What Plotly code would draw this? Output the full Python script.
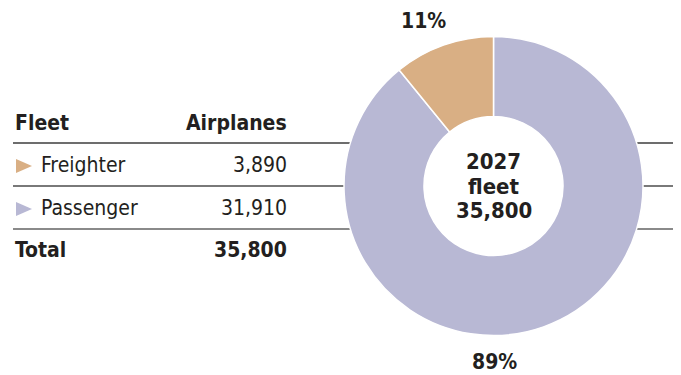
import plotly.graph_objects as go

W, H = 681, 375

categories = ["Freighter", "Passenger"]
values = [3890, 31910]
slice_colors = ["#D9AF84", "#B8B8D4"]
year = "2027"
total = sum(values)
header = ["Fleet", "Airplanes"]

FONT = "Liberation Sans Narrow, DejaVu Sans Condensed, Arial Narrow, sans-serif"
TXT = "#231f20"


def px(x):
    return x / W


def py(y):
    return 1 - y / H


cx, cy, r = 493.5, 186, 149.5

fig = go.Figure()
fig.add_trace(go.Pie(
    labels=categories[::-1], values=values[::-1], sort=False, direction="clockwise",
    rotation=0, hole=0.465,
    marker=dict(colors=slice_colors[::-1], line=dict(color="white", width=1.5)),
    textinfo="none", hoverinfo="label+value+percent", showlegend=False,
    domain=dict(x=[px(cx - r), px(cx + r)], y=[py(cy + r), py(cy - r)]),
))

ann = []


def add_text(x, y, text, anchor="left", bold=False, size=21):
    ann.append(dict(x=px(x), y=py(y), xref="paper", yref="paper", text=text,
                    showarrow=False, xanchor=anchor, yanchor="middle",
                    font=dict(family=FONT, size=size, color=TXT, weight="bold" if bold else "normal")))


# Table
add_text(13, 123, header[0], "left", True)
add_text(289, 123, header[1], "right", True)
row_y = [165, 208]
for i, (c, v) in enumerate(zip(categories, values)):
    add_text(39, row_y[i], c, "left")
    add_text(289, row_y[i], f"{v:,}", "right")
add_text(13, 250, "Total", "left", True)
add_text(289, 250, f"{total:,}", "right", True)

# center text
add_text(cx, 162, year, "center", True, 22)
add_text(cx, 186, "fleet", "center", True, 22)
add_text(cx, 210, f"{total:,}", "center", True, 22)

# percentages
pcts = [round(v / total * 100) for v in values]
add_text(424, 21, f"{pcts[0]}%", "center", True, 21)
add_text(494, 362, f"{pcts[1]}%", "center", True, 21)

shapes = []
# triangles
for i, col in enumerate(slice_colors):
    yc = row_y[i] + 1
    path = f"M {px(16)} {py(yc-7)} L {px(32)} {py(yc)} L {px(16)} {py(yc+7)} Z"
    shapes.append(dict(type="path", xref="paper", yref="paper", path=path,
                       fillcolor=col, line=dict(width=0)))

# rules
rules = [(143, "#3d3d3d", 1.5), (186, "#4d4d4d", 1.5), (229, "#8a8a8a", 2.2)]
for y, col, w in rules:
    for x0, x1 in [(13, 400), (590, 673)]:
        shapes.append(dict(type="line", xref="paper", yref="paper", x0=px(x0), x1=px(x1),
                           y0=py(y), y1=py(y), line=dict(color=col, width=w), layer="below"))

fig.update_layout(width=W, height=H, margin=dict(l=0, r=0, t=0, b=0),
                  paper_bgcolor="white", plot_bgcolor="white",
                  annotations=ann, shapes=shapes)
fig.write_html("out.html")
